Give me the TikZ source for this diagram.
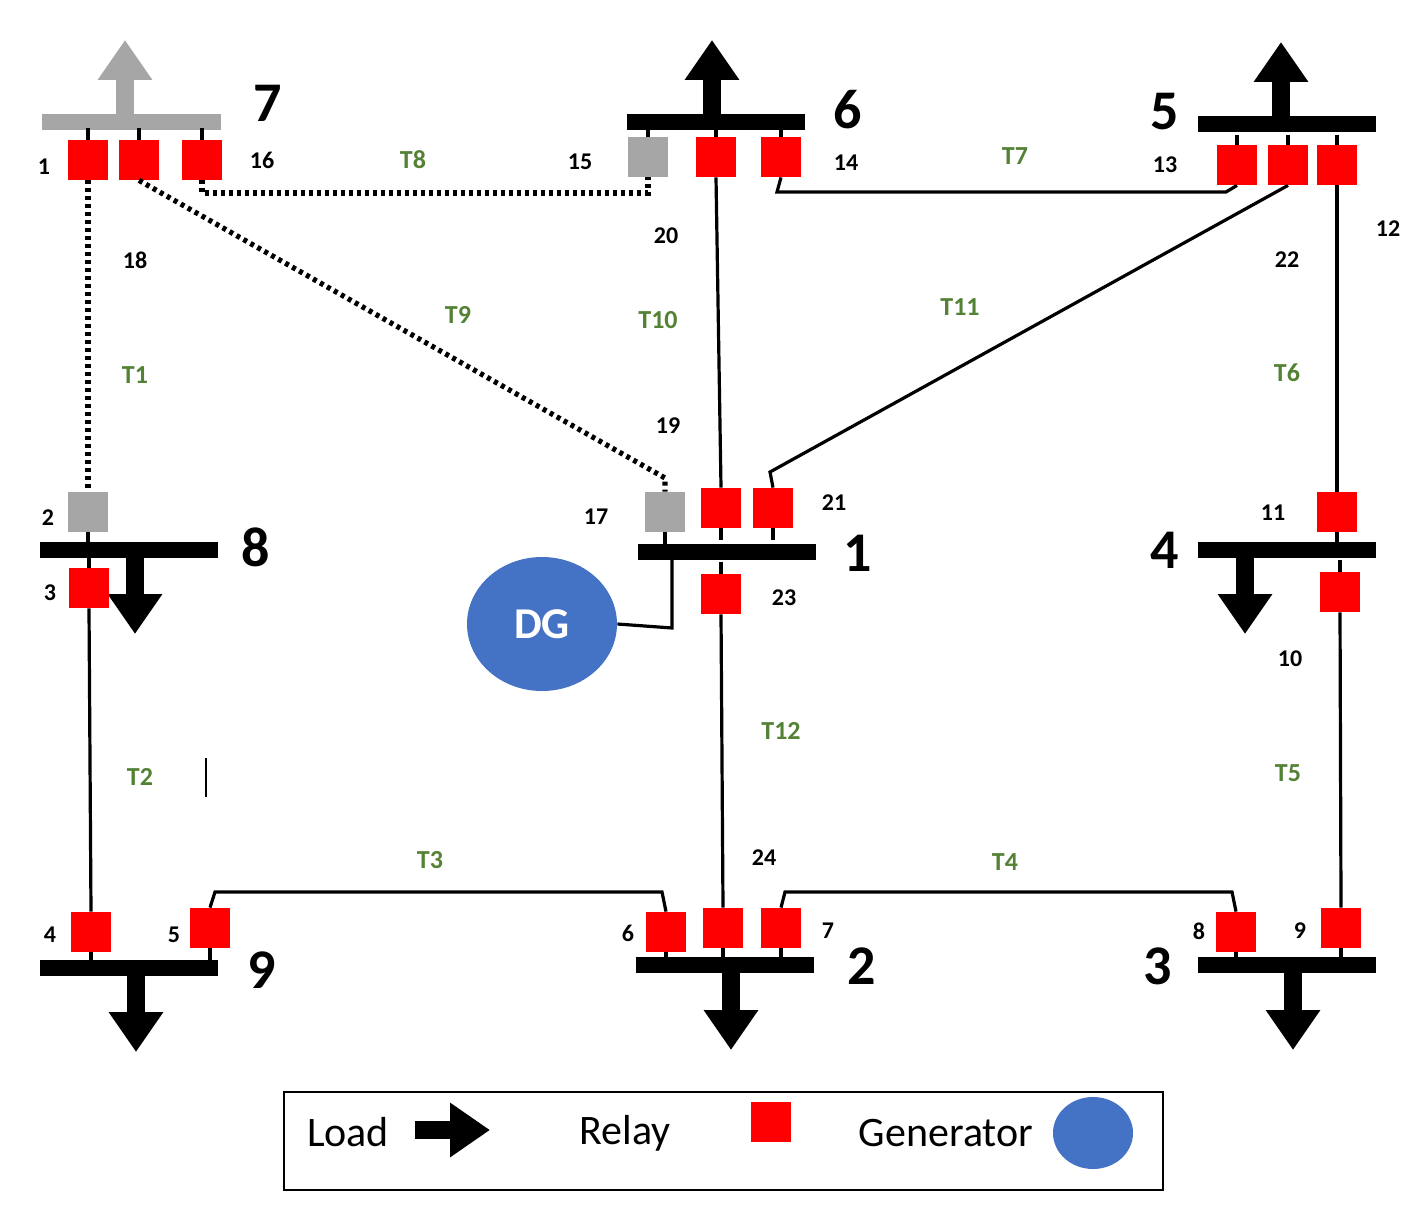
\documentclass[tikz,border=0pt]{standalone}
\usepackage{fontspec}
\setmainfont{Carlito}
\usetikzlibrary{arrows.meta,shapes.geometric}
\definecolor{tg}{HTML}{548235}
\definecolor{dgb}{HTML}{4472C4}
\begin{document}
\begin{tikzpicture}[x=0.5pt,y=-0.5pt,
 relay/.style={fill=red,minimum size=20pt,inner sep=0pt,draw=none},
 grelay/.style={fill=gray!70,minimum size=20pt,inner sep=0pt,draw=none},
 bus/.style={line width=8pt},
 num/.style={font=\bfseries\fontsize{12}{12}\selectfont},
 tl/.style={font=\bfseries\fontsize{13}{13}\selectfont,text=tg},
 bl/.style={font=\bfseries\fontsize{28}{28}\selectfont},
 line/.style={line width=1.6pt},
 dl/.style={line width=2.6pt,dash pattern=on 2pt off 2pt},
 load/.style={line width=9pt,-{Triangle[length=20pt,width=26pt]}},
 stub/.style={line width=1.6pt}]
\useasboundingbox (0,0) rectangle (1411,1219);
% buses
\coordinate (b7a) at (42,122); \coordinate (b7b) at (221,122);
\draw[bus,gray!70] (b7a) -- (b7b);
\coordinate (l7s) at (125,115); \coordinate (l7e) at (125,40);
\draw[load,gray!70] (l7s) -- (l7e);
\foreach \n/\x/\y in {b6/627/122,b5/1198/124,b8/40/550,b1/638/552,b4/1198/550,b9/40/968,b2/636/965,b3/1198/965}{
 \coordinate (\n a) at (\x,\y); \coordinate (\n b) at (\x+178,\y);
 \draw[bus] (\n a) -- (\n b);}
\foreach \n/\x/\y/\e in {l6/712/118/40,l5/1281/120/42}{
 \coordinate (\n s) at (\x,\y); \coordinate (\n e) at (\x,\e);
 \draw[load] (\n s) -- (\n e);}
\foreach \n/\x/\y/\e in {l8/135/554/634,l4/1245/554/634,l9/136/972/1052,l2/731/969/1050,l3/1293/969/1050}{
 \coordinate (\n s) at (\x,\y); \coordinate (\n e) at (\x,\e);
 \draw[load] (\n s) -- (\n e);}
% bus labels
\node[bl] (n7) at (268,103) {7};
\node[bl] (n6) at (848,110) {6};
\node[bl] (n5) at (1165,112) {5};
\node[bl] (n8) at (256,547) {8};
\node[bl] (n1) at (858,553) {1};
\node[bl] (n4) at (1165,550) {4};
\node[bl] (n9) at (262,970) {9};
\node[bl] (n2) at (862,966) {2};
\node[bl] (n3) at (1158,966) {3};
% relays
\node[relay] (r1) at (88,160) {};
\node[relay] (r18) at (139,160) {};
\node[relay] (r16) at (202,160) {};
\node[grelay] (r15) at (648,157) {};
\node[relay] (r20) at (716,157) {};
\node[relay] (r14) at (781,157) {};
\node[relay] (r13) at (1237,165) {};
\node[relay] (r22) at (1288,165) {};
\node[relay] (r12) at (1337,165) {};
\node[grelay] (r2) at (88,512) {};
\node[relay] (r3) at (89,588) {};
\node[grelay] (r17) at (665,512) {};
\node[relay] (r19) at (721,508) {};
\node[relay] (r21) at (773,508) {};
\node[relay] (r23) at (721,594) {};
\node[relay] (r11) at (1337,512) {};
\node[relay] (r10) at (1340,592) {};
\node[relay] (r4) at (91,932) {};
\node[relay] (r5) at (210,928) {};
\node[relay] (r6) at (666,932) {};
\node[relay] (r24) at (723,928) {};
\node[relay] (r7) at (781,928) {};
\node[relay] (r8) at (1236,932) {};
\node[relay] (r9) at (1341,928) {};
% stubs
\foreach \r/\x in {r1/88,r18/139,r16/202}{\draw[stub] (\r.north) -- (\x,128);}
\foreach \r in {r15,r20,r14}{\draw[stub] (\r.north) -- ++(0,-8);}
\foreach \r in {r13,r22,r12}{\draw[stub] (\r.north) -- ++(0,-10);}
\foreach \r in {r2,r17,r19,r21,r11}{\draw[stub] (\r.south) -- ++(0,12);}
\foreach \r in {r3,r23,r10}{\draw[stub] (\r.north) -- ++(0,-12);}
\foreach \r in {r4,r5,r6,r24,r7,r8,r9}{\draw[stub] (\r.south) -- ++(0,14);}
% numbers
\foreach \t/\x/\y in {1/44/167,16/262/160,15/580/162,14/846/163,13/1165/165,12/1388/229,18/135/260,20/666/236,19/668/426,22/1287/260,2/48/518,3/50/593,17/596/517,21/834/503,23/784/598,11/1273/513,10/1290/659,24/764/858,4/50/935,5/174/935,6/628/933,7/828/931,8/1199/931,9/1300/931}
 {\node[num] (num\t) at (\x,\y) {\t};}
% T labels
\foreach \t/\x/\y in {T8/413/160,T7/1015/156,T9/458/315,T10/658/320,T11/960/307,T1/135/375,T6/1287/373,T12/781/731,T5/1288/773,T2/140/777,T3/430/860,T4/1005/862}
 {\node[tl] (l\t) at (\x,\y) {\t};}
% lines
\coordinate (c16) at (202,193); \coordinate (c15) at (648,193);
\draw[dl] (r16.south) -- (c16) -- (c15) -- (r15.south);
\coordinate (c17) at (665,478);
\draw[dl] (r18.south) -- (c17) -- (r17.north);
\draw[dl] (r1.south) -- (r2.north);
\draw[line] (r20.south) -- (r19.north);
\coordinate (c14) at (777,192); \coordinate (c13) at (1226,192);
\draw[line] (r14.south) -- (c14) -- (c13) -- (r13.south);
\coordinate (c21) at (770,472);
\draw[line] (r22.south) -- (c21) -- (r21.north);
\draw[line] (r12.south) -- (r11.north);
\draw[line] (r23.south) -- (r24.north);
\draw[line] (r10.south) -- (r9.north);
\draw[line] (r3.south) -- (r4.north);
\coordinate (c5) at (215,892); \coordinate (c6) at (662,892);
\draw[line] (r5.north) -- (c5) -- (c6) -- (r6.north);
\coordinate (c7) at (785,892); \coordinate (c8) at (1232,892);
\draw[line] (r7.north) -- (c7) -- (c8) -- (r8.north);
\coordinate (m1) at (206,758); \coordinate (m2) at (206,797);
\draw[line width=0.8pt] (m1) -- (m2);
% DG
\node[ellipse,fill=dgb,minimum width=75pt,minimum height=67pt,inner sep=0pt,text=white,font=\bfseries\fontsize{22}{22}\selectfont] (dg) at (542,624) {DG};
\coordinate (cdg) at (672,628); \coordinate (cdgb) at (672,552);
\draw[line] (dg.east) -- (cdg) -- (cdgb);
% legend
\node[draw,line width=1pt,minimum width=439.5pt,minimum height=49pt,inner sep=0pt] (leg) at (723.5,1141) {};
\node[font=\fontsize{21}{21}\selectfont] (lload) at (348,1132) {Load};
\coordinate (la) at (415,1130); \coordinate (lb) at (490,1130);
\draw[load] (la) -- (lb);
\node[font=\fontsize{21}{21}\selectfont] (lrel) at (625,1133) {Relay};
\node[relay] (lr) at (771,1122) {};
\node[font=\fontsize{21}{21}\selectfont] (lgen) at (946,1133) {Generator};
\node[ellipse,fill=dgb,minimum width=40pt,minimum height=36pt,inner sep=0pt] (lg) at (1093,1133) {};
\end{tikzpicture}
\end{document}
